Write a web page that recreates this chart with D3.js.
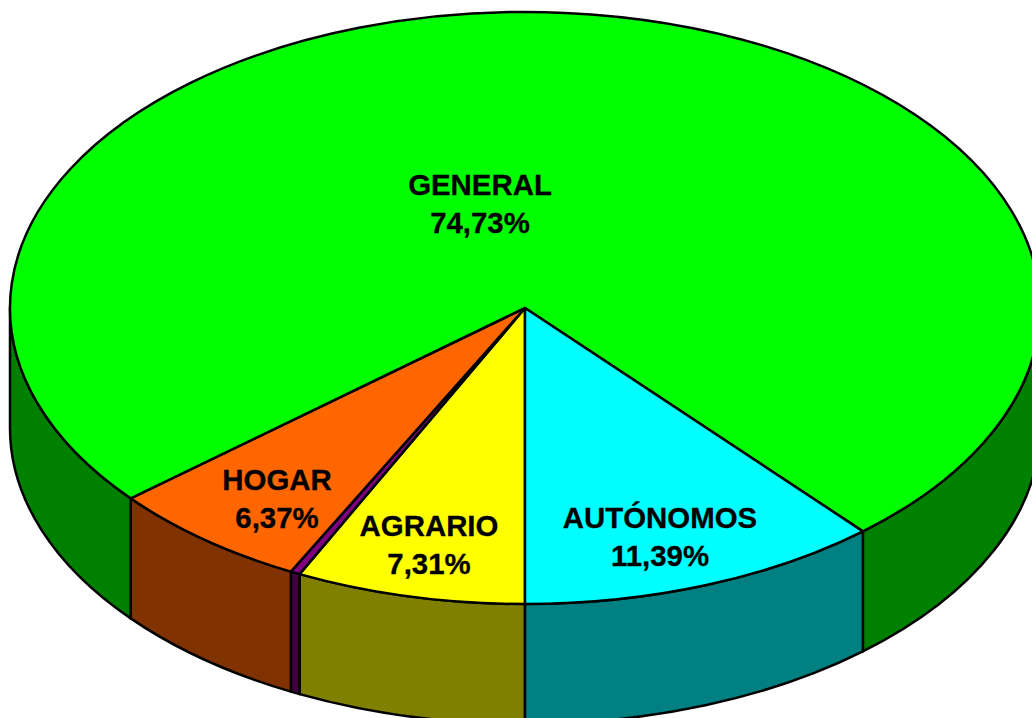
<!DOCTYPE html>
<html lang="es">
<head>
  <meta charset="UTF-8">
  <title>Regimenes</title>
  <script src="https://cdn.jsdelivr.net/npm/d3@7"></script>
  <style>
    body { margin: 0; background: #fff; overflow: hidden; }
    text { font-family: "Liberation Sans", Arial, sans-serif; font-weight: bold; font-size: 29.4px; text-anchor: middle; fill: #000; stroke: #000; stroke-width: 0.3px; }
  </style>
</head>
<body>
  <script>

    // clockwise, starting from the bottom of the pie
    var categories = ["AGRARIO", "", "HOGAR", "GENERAL", "AUTÓNOMOS"];
    // as drawn: the thin slice looks a bit wider than its 0,20% remainder
    var shares = [7.21, 0.30, 6.37, 74.73, 11.39];
    var shareLabels = ["7,31%", "", "6,37%", "74,73%", "11,39%"];
    var topColors = ["#ffff00", "#800080", "#ff6600", "#00ff00", "#00ffff"];
    var wallColors = ["#808000", "#400040", "#803300", "#008000", "#008080"];

    var width = 1032;
    var height = 718;
    var cx = 525;
    var cy = 308;
    var rx = 515;
    var ry = 296;
    var depth = 120;

    // label centres, by slice
    var labelX = [429, 0, 277, 480, 660];
    var labelY = [536, 0, 490, 195, 528];
    var lineGap = 38;

    var svg = d3.select("body")
      .append("svg")
        .attr("width", width)
        .attr("height", height)
        .style("display", "block");

    var x = d3.scaleLinear().domain([-1, 1]).range([cx - rx, cx + rx]);
    var y = d3.scaleLinear().domain([-1, 1]).range([cy - ry, cy + ry]);

    var pie = d3.pie()
      .sort(null)
      .startAngle(Math.PI)
      .endAngle(3 * Math.PI);

    var slices = pie(shares);

    // point on the rim, angle in d3 terms (0 = up, clockwise)
    function rimX(a) { return x(Math.sin(a)); }
    function rimY(a) { return y(-Math.cos(a)); }

    function rimArc(a0, a1, sweep, dy) {
      var large = Math.abs(a1 - a0) > Math.PI ? 1 : 0;
      return "A" + rx + "," + ry + " 0 " + large + "," + sweep + " " + rimX(a1) + "," + (rimY(a1) + dy);
    }

    function topPath(d) {
      return "M" + cx + "," + cy +
        "L" + rimX(d.startAngle) + "," + rimY(d.startAngle) +
        rimArc(d.startAngle, d.endAngle, 1, 0) + "Z";
    }

    function wallPath(a0, a1) {
      return "M" + rimX(a0) + "," + rimY(a0) +
        rimArc(a0, a1, 1, 0) +
        "L" + rimX(a1) + "," + (rimY(a1) + depth) +
        rimArc(a1, a0, 0, depth) + "Z";
    }

    // only the front half of the rim shows a wall
    var frontHalves = [[Math.PI / 2, 3 * Math.PI / 2], [5 * Math.PI / 2, 7 * Math.PI / 2]];
    var walls = [];
    slices.forEach(function(d) {
      frontHalves.forEach(function(h) {
        var a0 = Math.max(d.startAngle, h[0]);
        var a1 = Math.min(d.endAngle, h[1]);
        if (a1 > a0) {
          walls.push({ index: d.index, a0: a0, a1: a1 });
        }
      });
    });

    svg.selectAll("path.wall")
      .data(walls)
      .enter()
      .append("path")
        .attr("class", "wall")
        .attr("d", function(d) { return wallPath(d.a0, d.a1); })
        .attr("fill", function(d) { return wallColors[d.index]; })
        .attr("stroke", "#000")
        .attr("stroke-width", 2.5)
        .attr("stroke-linejoin", "round");

    svg.selectAll("path.top")
      .data(slices)
      .enter()
      .append("path")
        .attr("class", "top")
        .attr("d", topPath)
        .attr("fill", function(d) { return topColors[d.index]; })
        .attr("stroke", "#000")
        .attr("stroke-width", 2.5)
        .attr("stroke-linejoin", "round");

    var labelled = slices.filter(function(d) { return categories[d.index] !== ""; });

    svg.selectAll("text.name")
      .data(labelled)
      .enter()
      .append("text")
        .attr("class", "name")
        .attr("x", function(d) { return labelX[d.index]; })
        .attr("y", function(d) { return labelY[d.index]; })
        .text(function(d) { return categories[d.index]; });

    svg.selectAll("text.share")
      .data(labelled)
      .enter()
      .append("text")
        .attr("class", "share")
        .attr("x", function(d) { return labelX[d.index]; })
        .attr("y", function(d) { return labelY[d.index] + lineGap; })
        .text(function(d) { return shareLabels[d.index]; });

  </script>
</body>
</html>
